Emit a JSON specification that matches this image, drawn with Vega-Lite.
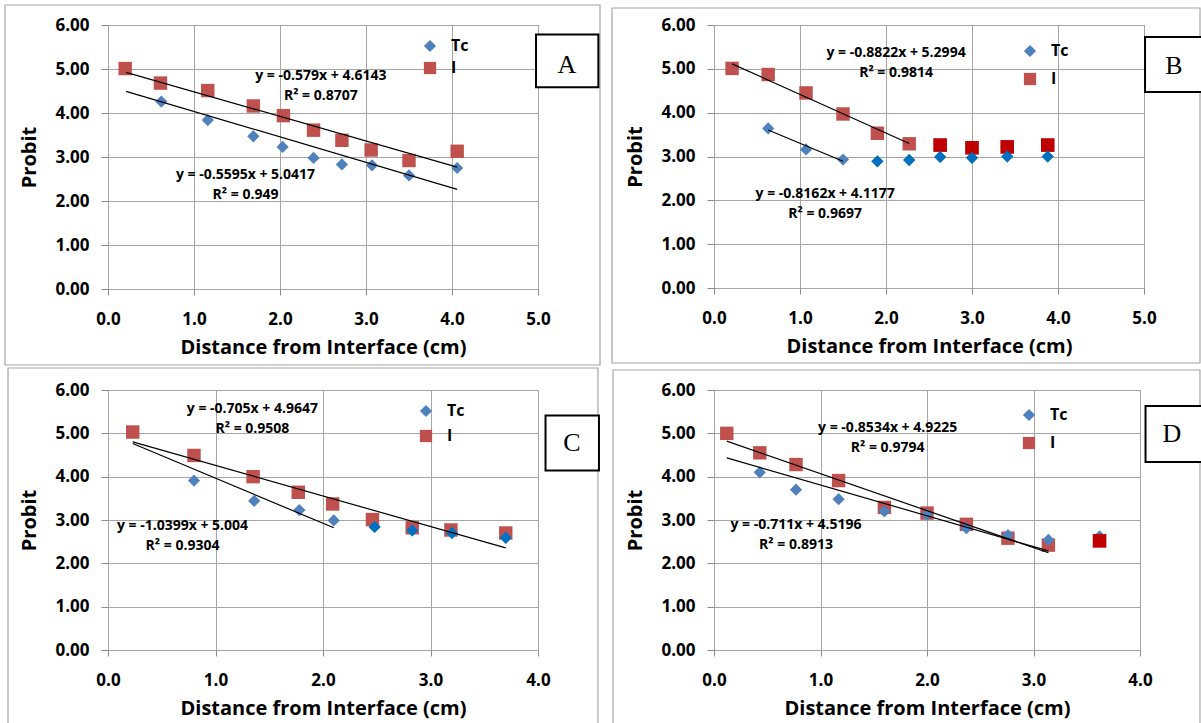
{
  "$schema": "https://vega.github.io/schema/vega-lite/v6.json",
  "background": "white",
  "padding": 3,
  "datasets": {
    "pts": [
      {"panel": "A", "series": "I", "x": 0.20, "y": 5.01},
      {"panel": "A", "series": "I", "x": 0.61, "y": 4.68},
      {"panel": "A", "series": "I", "x": 1.16, "y": 4.51},
      {"panel": "A", "series": "I", "x": 1.69, "y": 4.16},
      {"panel": "A", "series": "I", "x": 2.04, "y": 3.94},
      {"panel": "A", "series": "I", "x": 2.39, "y": 3.61},
      {"panel": "A", "series": "I", "x": 2.72, "y": 3.38},
      {"panel": "A", "series": "I", "x": 3.06, "y": 3.16},
      {"panel": "A", "series": "I", "x": 3.50, "y": 2.92},
      {"panel": "A", "series": "I", "x": 4.06, "y": 3.13},
      {"panel": "A", "series": "Tc", "x": 0.62, "y": 4.26},
      {"panel": "A", "series": "Tc", "x": 1.16, "y": 3.84},
      {"panel": "A", "series": "Tc", "x": 1.69, "y": 3.47},
      {"panel": "A", "series": "Tc", "x": 2.03, "y": 3.23},
      {"panel": "A", "series": "Tc", "x": 2.39, "y": 2.98},
      {"panel": "A", "series": "Tc", "x": 2.72, "y": 2.83},
      {"panel": "A", "series": "Tc", "x": 3.07, "y": 2.81},
      {"panel": "A", "series": "Tc", "x": 3.50, "y": 2.58},
      {"panel": "A", "series": "Tc", "x": 4.06, "y": 2.75},
      {"panel": "B", "series": "I", "x": 0.21, "y": 5.01},
      {"panel": "B", "series": "I", "x": 0.63, "y": 4.87},
      {"panel": "B", "series": "I", "x": 1.07, "y": 4.45},
      {"panel": "B", "series": "I", "x": 1.50, "y": 3.97},
      {"panel": "B", "series": "I", "x": 1.90, "y": 3.53},
      {"panel": "B", "series": "I", "x": 2.27, "y": 3.29},
      {"panel": "B", "series": "I", "x": 2.63, "y": 3.26},
      {"panel": "B", "series": "I", "x": 3.00, "y": 3.20},
      {"panel": "B", "series": "I", "x": 3.41, "y": 3.22},
      {"panel": "B", "series": "I", "x": 3.88, "y": 3.26},
      {"panel": "B", "series": "Tc", "x": 0.63, "y": 3.64},
      {"panel": "B", "series": "Tc", "x": 1.07, "y": 3.16},
      {"panel": "B", "series": "Tc", "x": 1.50, "y": 2.93},
      {"panel": "B", "series": "Tc", "x": 1.90, "y": 2.89},
      {"panel": "B", "series": "Tc", "x": 2.27, "y": 2.92},
      {"panel": "B", "series": "Tc", "x": 2.63, "y": 2.99},
      {"panel": "B", "series": "Tc", "x": 3.00, "y": 2.97},
      {"panel": "B", "series": "Tc", "x": 3.41, "y": 3.00},
      {"panel": "B", "series": "Tc", "x": 3.88, "y": 3.00},
      {"panel": "C", "series": "I", "x": 0.23, "y": 5.03},
      {"panel": "C", "series": "I", "x": 0.80, "y": 4.49},
      {"panel": "C", "series": "I", "x": 1.35, "y": 4.00},
      {"panel": "C", "series": "I", "x": 1.77, "y": 3.64},
      {"panel": "C", "series": "I", "x": 2.09, "y": 3.37},
      {"panel": "C", "series": "I", "x": 2.46, "y": 3.01},
      {"panel": "C", "series": "I", "x": 2.83, "y": 2.82},
      {"panel": "C", "series": "I", "x": 3.19, "y": 2.77},
      {"panel": "C", "series": "I", "x": 3.70, "y": 2.70},
      {"panel": "C", "series": "Tc", "x": 0.80, "y": 3.91},
      {"panel": "C", "series": "Tc", "x": 1.36, "y": 3.44},
      {"panel": "C", "series": "Tc", "x": 1.78, "y": 3.23},
      {"panel": "C", "series": "Tc", "x": 2.10, "y": 2.99},
      {"panel": "C", "series": "Tc", "x": 2.48, "y": 2.84},
      {"panel": "C", "series": "Tc", "x": 2.83, "y": 2.76},
      {"panel": "C", "series": "Tc", "x": 3.20, "y": 2.70},
      {"panel": "C", "series": "Tc", "x": 3.70, "y": 2.59},
      {"panel": "D", "series": "I", "x": 0.12, "y": 5.00},
      {"panel": "D", "series": "I", "x": 0.43, "y": 4.55},
      {"panel": "D", "series": "I", "x": 0.77, "y": 4.28},
      {"panel": "D", "series": "I", "x": 1.17, "y": 3.91},
      {"panel": "D", "series": "I", "x": 1.60, "y": 3.29},
      {"panel": "D", "series": "I", "x": 2.00, "y": 3.16},
      {"panel": "D", "series": "I", "x": 2.37, "y": 2.90},
      {"panel": "D", "series": "I", "x": 2.76, "y": 2.58},
      {"panel": "D", "series": "I", "x": 3.14, "y": 2.42},
      {"panel": "D", "series": "I", "x": 3.62, "y": 2.52},
      {"panel": "D", "series": "Tc", "x": 0.43, "y": 4.10},
      {"panel": "D", "series": "Tc", "x": 0.77, "y": 3.70},
      {"panel": "D", "series": "Tc", "x": 1.17, "y": 3.48},
      {"panel": "D", "series": "Tc", "x": 1.60, "y": 3.20},
      {"panel": "D", "series": "Tc", "x": 2.00, "y": 3.12},
      {"panel": "D", "series": "Tc", "x": 2.37, "y": 2.81},
      {"panel": "D", "series": "Tc", "x": 2.76, "y": 2.65},
      {"panel": "D", "series": "Tc", "x": 3.14, "y": 2.54},
      {"panel": "D", "series": "Tc", "x": 3.62, "y": 2.62}
    ],
    "trend": [
      {"panel": "A", "series": "I", "x": 0.21, "y": 4.924},
      {"panel": "A", "series": "I", "x": 4.06, "y": 2.770},
      {"panel": "A", "series": "Tc", "x": 0.21, "y": 4.493},
      {"panel": "A", "series": "Tc", "x": 4.06, "y": 2.264},
      {"panel": "B", "series": "I", "x": 0.21, "y": 5.114},
      {"panel": "B", "series": "I", "x": 2.27, "y": 3.297},
      {"panel": "B", "series": "Tc", "x": 0.63, "y": 3.604},
      {"panel": "B", "series": "Tc", "x": 1.50, "y": 2.893},
      {"panel": "C", "series": "I", "x": 0.23, "y": 4.803},
      {"panel": "C", "series": "I", "x": 3.70, "y": 2.356},
      {"panel": "C", "series": "Tc", "x": 0.23, "y": 4.765},
      {"panel": "C", "series": "Tc", "x": 2.10, "y": 2.820},
      {"panel": "D", "series": "I", "x": 0.12, "y": 4.820},
      {"panel": "D", "series": "I", "x": 3.14, "y": 2.243},
      {"panel": "D", "series": "Tc", "x": 0.12, "y": 4.434},
      {"panel": "D", "series": "Tc", "x": 3.14, "y": 2.287}
    ]
  },
  "config": {
    "font": "Open Sans",
    "view": {"stroke": "#8c8c8c", "strokeWidth": 1},
    "axis": {
      "labelFont": "Open Sans", "labelFontWeight": "bold", "labelFontSize": 17, "labelColor": "#000000",
      "titleFont": "Open Sans", "titleFontWeight": "bold", "titleFontSize": 20, "titleColor": "#000000",
      "gridColor": "#a6a6a6", "gridWidth": 1, "tickColor": "#8c8c8c", "domain": false, "labelOverlap": false
    },
    "axisX": {"tickSize": 6, "labelPadding": 16, "titlePadding": 10, "labelFlush": false},
    "axisY": {"tickSize": 7, "labelPadding": 12, "titlePadding": 15},
    "legend": {
      "title": null, "orient": "none", "padding": 0, "symbolSize": 150, "symbolStrokeWidth": 0,
      "labelFont": "Open Sans", "labelFontWeight": "bold", "labelFontSize": 16, "labelColor": "#000000", "labelOffset": 13
    }
  },
  "columns": 2,
  "spacing": {"row": 101, "column": 176},
  "bounds": "flush",
  "resolve": {"scale": {"color": "independent", "shape": "independent"}},
  "concat": [
    {
      "width": 430, "height": 264,
      "layer": [
        {"data": {"name": "pts"}, "transform": [{"filter": "datum.panel == 'A'"}],
         "mark": {"type": "point", "filled": true, "opacity": 1},
         "encoding": {
           "x": {"field": "x", "type": "quantitative", "scale": {"domain": [0, 5], "nice": false, "zero": false}, "axis": {"values": [0, 1, 2, 3, 4, 5], "format": ".1f", "title": "Distance from Interface (cm)"}},
           "y": {"field": "y", "type": "quantitative", "scale": {"domain": [0, 6], "nice": false, "zero": false}, "axis": {"values": [0, 1, 2, 3, 4, 5, 6], "format": ".2f", "title": "Probit"}},
           "color": {"field": "series", "type": "nominal", "scale": {"domain": ["Tc", "I"], "range": ["#4F81BD", "#C0504D"]}, "legend": {"legendX": 314, "legendY": 13, "rowPadding": 6}},
           "shape": {"field": "series", "type": "nominal", "scale": {"domain": ["Tc", "I"], "range": ["diamond", "square"]}, "legend": {"legendX": 314, "legendY": 13, "rowPadding": 6}},
           "size": {"field": "series", "type": "nominal", "scale": {"domain": ["Tc", "I"], "range": [150, 180]}, "legend": null}}},
        {"data": {"values": [{}]}, "mark": {"type": "rect", "fillOpacity": 0, "stroke": "#a6a6a6", "strokeWidth": 1.2},
         "encoding": {
           "x": {"datum": -1.198, "type": "quantitative"}, "x2": {"datum": 5.721},
           "y": {"datum": 6.455, "type": "quantitative"}, "y2": {"datum": -1.727}}},
        {"data": {"name": "trend"}, "transform": [{"filter": "datum.panel == 'A'"}],
         "mark": {"type": "line", "color": "#000000", "strokeWidth": 1.2},
         "encoding": {
           "x": {"field": "x", "type": "quantitative"},
           "y": {"field": "y", "type": "quantitative"},
           "detail": {"field": "series"}}},
        {"data": {"values": [{}]}, "mark": {"type": "text", "text": ["y = -0.579x + 4.6143", "R² = 0.8707"], "lineHeight": 20, "font": "Open Sans", "fontWeight": "bold", "fontSize": 14, "align": "center", "baseline": "middle", "color": "#000000"},
         "encoding": {"x": {"datum": 2.475, "type": "quantitative"}, "y": {"datum": 4.845, "type": "quantitative"}}},
        {"data": {"values": [{}]}, "mark": {"type": "text", "text": ["y = -0.5595x + 5.0417", "R² = 0.949"], "lineHeight": 20, "font": "Open Sans", "fontWeight": "bold", "fontSize": 14, "align": "center", "baseline": "middle", "color": "#000000"},
         "encoding": {"x": {"datum": 1.599, "type": "quantitative"}, "y": {"datum": 2.6, "type": "quantitative"}}},
        {"data": {"values": [{}]}, "mark": {"type": "rect", "fill": "#ffffff", "stroke": "#000000", "strokeWidth": 2},
         "encoding": {"x": {"datum": 4.977, "type": "quantitative"}, "x2": {"datum": 5.702}, "y": {"datum": 5.786, "type": "quantitative"}, "y2": {"datum": 4.586}}},
        {"data": {"values": [{}]}, "mark": {"type": "text", "text": "A", "font": "Liberation Serif", "fontSize": 26, "align": "center", "baseline": "middle", "color": "#000000"},
         "encoding": {"x": {"datum": 5.337, "type": "quantitative"}, "y": {"datum": 5.098, "type": "quantitative"}}}
      ]
    },
    {
      "width": 430, "height": 263,
      "layer": [
        {"data": {"name": "pts"}, "transform": [{"filter": "datum.panel == 'B'"}],
         "mark": {"type": "point", "filled": true, "opacity": 1},
         "encoding": {
           "x": {"field": "x", "type": "quantitative", "scale": {"domain": [0, 5], "nice": false, "zero": false}, "axis": {"values": [0, 1, 2, 3, 4, 5], "format": ".1f", "title": "Distance from Interface (cm)"}},
           "y": {"field": "y", "type": "quantitative", "scale": {"domain": [0, 6], "nice": false, "zero": false}, "axis": {"values": [0, 1, 2, 3, 4, 5, 6], "format": ".2f", "title": "Probit"}},
           "color": {"field": "series", "type": "nominal", "scale": {"domain": ["Tc", "I"], "range": ["#4F81BD", "#C0504D"]}, "legend": {"legendX": 308, "legendY": 18, "rowPadding": 12}},
           "shape": {"field": "series", "type": "nominal", "scale": {"domain": ["Tc", "I"], "range": ["diamond", "square"]}, "legend": {"legendX": 308, "legendY": 18, "rowPadding": 12}},
           "size": {"field": "series", "type": "nominal", "scale": {"domain": ["Tc", "I"], "range": [150, 180]}, "legend": null}}},
        {"data": {"values": [{}]}, "mark": {"type": "rect", "fillOpacity": 0, "stroke": "#a6a6a6", "strokeWidth": 1.2},
         "encoding": {
           "x": {"datum": -1.186, "type": "quantitative"}, "x2": {"datum": 5.651},
           "y": {"datum": 6.388, "type": "quantitative"}, "y2": {"datum": -1.711}}},
        {"data": {"name": "pts"}, "transform": [{"filter": "datum.panel == 'B' && datum.series == 'I' && datum.x > 2.5"}],
         "mark": {"type": "point", "filled": true, "opacity": 1, "color": "#C00000", "shape": "square", "size": 180},
         "encoding": {"x": {"field": "x", "type": "quantitative"}, "y": {"field": "y", "type": "quantitative"}}},
        {"data": {"name": "pts"}, "transform": [{"filter": "datum.panel == 'B' && datum.series == 'Tc' && datum.x > 1.8"}],
         "mark": {"type": "point", "filled": true, "opacity": 1, "color": "#0070C0", "shape": "diamond", "size": 140},
         "encoding": {"x": {"field": "x", "type": "quantitative"}, "y": {"field": "y", "type": "quantitative"}}},
        {"data": {"name": "trend"}, "transform": [{"filter": "datum.panel == 'B'"}],
         "mark": {"type": "line", "color": "#000000", "strokeWidth": 1.2},
         "encoding": {
           "x": {"field": "x", "type": "quantitative"},
           "y": {"field": "y", "type": "quantitative"},
           "detail": {"field": "series"}}},
        {"data": {"values": [{}]}, "mark": {"type": "text", "text": ["y = -0.8822x + 5.2994", "R² = 0.9814"], "lineHeight": 20, "font": "Open Sans", "fontWeight": "bold", "fontSize": 14, "align": "center", "baseline": "middle", "color": "#000000"},
         "encoding": {"x": {"datum": 2.117, "type": "quantitative"}, "y": {"datum": 5.35, "type": "quantitative"}}},
        {"data": {"values": [{}]}, "mark": {"type": "text", "text": ["y = -0.8162x + 4.1177", "R² = 0.9697"], "lineHeight": 20, "font": "Open Sans", "fontWeight": "bold", "fontSize": 14, "align": "center", "baseline": "middle", "color": "#000000"},
         "encoding": {"x": {"datum": 1.293, "type": "quantitative"}, "y": {"datum": 2.135, "type": "quantitative"}}},
        {"data": {"values": [{}]}, "mark": {"type": "rect", "fill": "#ffffff", "stroke": "#000000", "strokeWidth": 2},
         "encoding": {"x": {"datum": 5.012, "type": "quantitative"}, "x2": {"datum": 5.8}, "y": {"datum": 5.727, "type": "quantitative"}, "y2": {"datum": 4.472}}},
        {"data": {"values": [{}]}, "mark": {"type": "text", "text": "B", "font": "Liberation Serif", "fontSize": 26, "align": "center", "baseline": "middle", "color": "#000000"},
         "encoding": {"x": {"datum": 5.349, "type": "quantitative"}, "y": {"datum": 5.065, "type": "quantitative"}}}
      ]
    },
    {
      "width": 430, "height": 260,
      "layer": [
        {"data": {"name": "pts"}, "transform": [{"filter": "datum.panel == 'C'"}],
         "mark": {"type": "point", "filled": true, "opacity": 1},
         "encoding": {
           "x": {"field": "x", "type": "quantitative", "scale": {"domain": [0, 4], "nice": false, "zero": false}, "axis": {"values": [0, 1, 2, 3, 4], "format": ".1f", "title": "Distance from Interface (cm)"}},
           "y": {"field": "y", "type": "quantitative", "scale": {"domain": [0, 6], "nice": false, "zero": false}, "axis": {"values": [0, 1, 2, 3, 4, 5, 6], "format": ".2f", "title": "Probit"}},
           "color": {"field": "series", "type": "nominal", "scale": {"domain": ["Tc", "I"], "range": ["#4F81BD", "#C0504D"]}, "legend": {"legendX": 310, "legendY": 13, "rowPadding": 9}},
           "shape": {"field": "series", "type": "nominal", "scale": {"domain": ["Tc", "I"], "range": ["diamond", "square"]}, "legend": {"legendX": 310, "legendY": 13, "rowPadding": 9}},
           "size": {"field": "series", "type": "nominal", "scale": {"domain": ["Tc", "I"], "range": [150, 180]}, "legend": null}}},
        {"data": {"values": [{}]}, "mark": {"type": "rect", "fillOpacity": 0, "stroke": "#a6a6a6", "strokeWidth": 1.2},
         "encoding": {
           "x": {"datum": -0.93, "type": "quantitative"}, "x2": {"datum": 4.558},
           "y": {"datum": 6.508, "type": "quantitative"}, "y2": {"datum": -1.846}}},
        {"data": {"name": "pts"}, "transform": [{"filter": "datum.panel == 'C' && datum.series == 'Tc' && datum.x > 2.4"}],
         "mark": {"type": "point", "filled": true, "opacity": 1, "color": "#0070C0", "shape": "diamond", "size": 140},
         "encoding": {"x": {"field": "x", "type": "quantitative"}, "y": {"field": "y", "type": "quantitative"}}},
        {"data": {"name": "trend"}, "transform": [{"filter": "datum.panel == 'C'"}],
         "mark": {"type": "line", "color": "#000000", "strokeWidth": 1.2},
         "encoding": {
           "x": {"field": "x", "type": "quantitative"},
           "y": {"field": "y", "type": "quantitative"},
           "detail": {"field": "series"}}},
        {"data": {"values": [{}]}, "mark": {"type": "text", "text": ["y = -0.705x + 4.9647", "R² = 0.9508"], "lineHeight": 20, "font": "Open Sans", "fontWeight": "bold", "fontSize": 14, "align": "center", "baseline": "middle", "color": "#000000"},
         "encoding": {"x": {"datum": 1.343, "type": "quantitative"}, "y": {"datum": 5.553, "type": "quantitative"}}},
        {"data": {"values": [{}]}, "mark": {"type": "text", "text": ["y = -1.0399x + 5.004", "R² = 0.9304"], "lineHeight": 20, "font": "Open Sans", "fontWeight": "bold", "fontSize": 14, "align": "center", "baseline": "middle", "color": "#000000"},
         "encoding": {"x": {"datum": 0.693, "type": "quantitative"}, "y": {"datum": 2.873, "type": "quantitative"}}},
        {"data": {"values": [{}]}, "mark": {"type": "rect", "fill": "#ffffff", "stroke": "#000000", "strokeWidth": 2},
         "encoding": {"x": {"datum": 4.07, "type": "quantitative"}, "x2": {"datum": 4.567}, "y": {"datum": 5.414, "type": "quantitative"}, "y2": {"datum": 4.145}}},
        {"data": {"values": [{}]}, "mark": {"type": "text", "text": "C", "font": "Liberation Serif", "fontSize": 26, "align": "center", "baseline": "middle", "color": "#000000"},
         "encoding": {"x": {"datum": 4.316, "type": "quantitative"}, "y": {"datum": 4.777, "type": "quantitative"}}}
      ]
    },
    {
      "width": 426, "height": 260,
      "layer": [
        {"data": {"name": "pts"}, "transform": [{"filter": "datum.panel == 'D'"}],
         "mark": {"type": "point", "filled": true, "opacity": 1},
         "encoding": {
           "x": {"field": "x", "type": "quantitative", "scale": {"domain": [0, 4], "nice": false, "zero": false}, "axis": {"values": [0, 1, 2, 3, 4], "format": ".1f", "title": "Distance from Interface (cm)"}},
           "y": {"field": "y", "type": "quantitative", "scale": {"domain": [0, 6], "nice": false, "zero": false}, "axis": {"values": [0, 1, 2, 3, 4, 5, 6], "format": ".2f", "title": "Probit"}},
           "color": {"field": "series", "type": "nominal", "scale": {"domain": ["Tc", "I"], "range": ["#4F81BD", "#C0504D"]}, "legend": {"legendX": 307, "legendY": 17, "rowPadding": 12}},
           "shape": {"field": "series", "type": "nominal", "scale": {"domain": ["Tc", "I"], "range": ["diamond", "square"]}, "legend": {"legendX": 307, "legendY": 17, "rowPadding": 12}},
           "size": {"field": "series", "type": "nominal", "scale": {"domain": ["Tc", "I"], "range": [150, 180]}, "legend": null}}},
        {"data": {"values": [{}]}, "mark": {"type": "rect", "fillOpacity": 0, "stroke": "#a6a6a6", "strokeWidth": 1.2},
         "encoding": {
           "x": {"datum": -0.948, "type": "quantitative"}, "x2": {"datum": 4.563},
           "y": {"datum": 6.462, "type": "quantitative"}, "y2": {"datum": -1.846}}},
        {"data": {"name": "pts"}, "transform": [{"filter": "datum.panel == 'D' && datum.series == 'I' && datum.x > 3.5"}],
         "mark": {"type": "point", "filled": true, "opacity": 1, "color": "#C00000", "shape": "square", "size": 180},
         "encoding": {"x": {"field": "x", "type": "quantitative"}, "y": {"field": "y", "type": "quantitative"}}},
        {"data": {"name": "trend"}, "transform": [{"filter": "datum.panel == 'D'"}],
         "mark": {"type": "line", "color": "#000000", "strokeWidth": 1.2},
         "encoding": {
           "x": {"field": "x", "type": "quantitative"},
           "y": {"field": "y", "type": "quantitative"},
           "detail": {"field": "series"}}},
        {"data": {"values": [{}]}, "mark": {"type": "text", "text": ["y = -0.8534x + 4.9225", "R² = 0.9794"], "lineHeight": 20, "font": "Open Sans", "fontWeight": "bold", "fontSize": 14, "align": "center", "baseline": "middle", "color": "#000000"},
         "encoding": {"x": {"datum": 1.631, "type": "quantitative"}, "y": {"datum": 5.112, "type": "quantitative"}}},
        {"data": {"values": [{}]}, "mark": {"type": "text", "text": ["y = -0.711x + 4.5196", "R² = 0.8913"], "lineHeight": 20, "font": "Open Sans", "fontWeight": "bold", "fontSize": 14, "align": "center", "baseline": "middle", "color": "#000000"},
         "encoding": {"x": {"datum": 0.77, "type": "quantitative"}, "y": {"datum": 2.885, "type": "quantitative"}}},
        {"data": {"values": [{}]}, "mark": {"type": "rect", "fill": "#ffffff", "stroke": "#000000", "strokeWidth": 2},
         "encoding": {"x": {"datum": 4.052, "type": "quantitative"}, "x2": {"datum": 4.66}, "y": {"datum": 5.631, "type": "quantitative"}, "y2": {"datum": 4.339}}},
        {"data": {"values": [{}]}, "mark": {"type": "text", "text": "D", "font": "Liberation Serif", "fontSize": 26, "align": "center", "baseline": "middle", "color": "#000000"},
         "encoding": {"x": {"datum": 4.30, "type": "quantitative"}, "y": {"datum": 4.985, "type": "quantitative"}}}
      ]
    }
  ]
}
